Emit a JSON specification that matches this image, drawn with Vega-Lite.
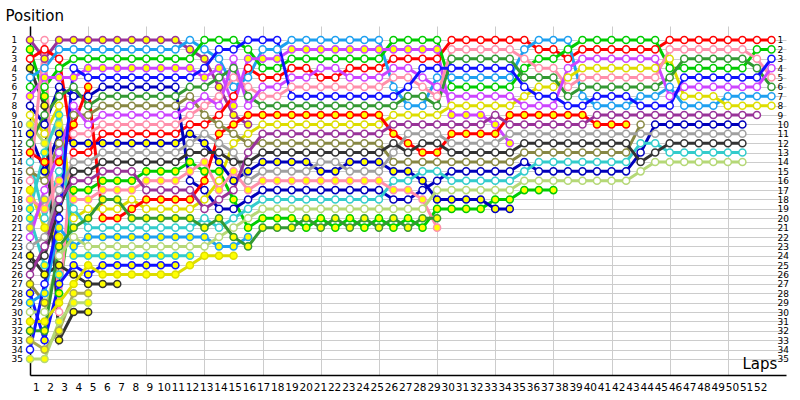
{
"$schema":"https://vega.github.io/schema/vega-lite/v6.json",
"width":756,"height":349,
"autosize":"none",
"padding":{"left":30,"top":26,"right":14,"bottom":25},
"background":"#ffffff",
"config":{"view":{"stroke":null},"font":"DejaVu Sans","axis":{"labelOverlap":false,"labelFlush":false,"labelBound":false}},
"datasets":{
"drv":[{"d":"PY","c":"#993399","f":1},{"d":"PO","c":"#993399","f":0},{"d":"LO","c":"#1ea0f0","f":0},{"d":"LY","c":"#1ea0f0","f":1},{"d":"GO","c":"#00cc00","f":0},{"d":"GY","c":"#00cc00","f":1},{"d":"VO","c":"#cc44ff","f":0},{"d":"VY","c":"#cc44ff","f":1},{"d":"BO","c":"#1111ff","f":0},{"d":"BY","c":"#1111ff","f":1},{"d":"NO","c":"#0000bb","f":0},{"d":"NY","c":"#0000bb","f":1},{"d":"DO","c":"#339933","f":0},{"d":"DY","c":"#339933","f":1},{"d":"OO","c":"#888844","f":0},{"d":"OY","c":"#888844","f":1},{"d":"KO","c":"#ff8fab","f":0},{"d":"KY","c":"#ff8fab","f":1},{"d":"RO","c":"#ff0000","f":0},{"d":"RY","c":"#ff0000","f":1},{"d":"EO","c":"#dddd00","f":0},{"d":"EY","c":"#dddd00","f":1},{"d":"AO","c":"#a0a0a0","f":0},{"d":"AY","c":"#a0a0a0","f":1},{"d":"XO","c":"#333333","f":0},{"d":"XY","c":"#333333","f":1},{"d":"CO","c":"#33cccc","f":0},{"d":"CY","c":"#33cccc","f":1},{"d":"HO","c":"#b5d877","f":0},{"d":"HY","c":"#b5d877","f":1},{"d":"XZ","c":"#333333","f":1},{"d":"OZ","c":"#aaaa55","f":1},{"d":"EZ","c":"#dddd00","f":1},{"d":"HZ","c":"#b5d877","f":1},{"d":"CZ","c":"#33cccc","f":1}],
"laps":[
{"l":1,"p":1,"d":"PY"},{"l":1,"p":2,"d":"GY"},{"l":1,"p":3,"d":"RO"},{"l":1,"p":4,"d":"XZ"},{"l":1,"p":5,"d":"LO"},{"l":1,"p":6,"d":"GO"},{"l":1,"p":7,"d":"VY"},{"l":1,"p":8,"d":"NO"},{"l":1,"p":9,"d":"EO"},{"l":1,"p":10,"d":"HY"},{"l":1,"p":11,"d":"NY"},{"l":1,"p":12,"d":"DO"},{"l":1,"p":13,"d":"RY"},{"l":1,"p":14,"d":"CO"},{"l":1,"p":15,"d":"OO"},{"l":1,"p":16,"d":"KO"},{"l":1,"p":17,"d":"EZ"},{"l":1,"p":18,"d":"KY"},{"l":1,"p":19,"d":"CY"},{"l":1,"p":20,"d":"CZ"},{"l":1,"p":21,"d":"AY"},{"l":1,"p":22,"d":"VO"},{"l":1,"p":23,"d":"AO"},{"l":1,"p":24,"d":"XY"},{"l":1,"p":25,"d":"XO"},{"l":1,"p":26,"d":"PO"},{"l":1,"p":27,"d":"OY"},{"l":1,"p":28,"d":"BY"},{"l":1,"p":29,"d":"LY"},{"l":1,"p":30,"d":"HO"},{"l":1,"p":31,"d":"EY"},{"l":1,"p":32,"d":"DY"},{"l":1,"p":33,"d":"OZ"},{"l":1,"p":34,"d":"BO"},{"l":1,"p":35,"d":"HZ"},
{"l":2,"p":1,"d":"KO"},{"l":2,"p":2,"d":"RO"},{"l":2,"p":3,"d":"PY"},{"l":2,"p":4,"d":"LO"},{"l":2,"p":5,"d":"VY"},{"l":2,"p":6,"d":"GO"},{"l":2,"p":7,"d":"GY"},{"l":2,"p":8,"d":"XZ"},{"l":2,"p":9,"d":"DO"},{"l":2,"p":10,"d":"NO"},{"l":2,"p":11,"d":"EO"},{"l":2,"p":12,"d":"HY"},{"l":2,"p":13,"d":"CY"},{"l":2,"p":14,"d":"RY"},{"l":2,"p":15,"d":"NY"},{"l":2,"p":16,"d":"OO"},{"l":2,"p":17,"d":"VO"},{"l":2,"p":18,"d":"AY"},{"l":2,"p":19,"d":"KY"},{"l":2,"p":20,"d":"CO"},{"l":2,"p":21,"d":"EZ"},{"l":2,"p":22,"d":"AO"},{"l":2,"p":23,"d":"PO"},{"l":2,"p":24,"d":"XO"},{"l":2,"p":25,"d":"CZ"},{"l":2,"p":26,"d":"XY"},{"l":2,"p":27,"d":"BO"},{"l":2,"p":28,"d":"LY"},{"l":2,"p":29,"d":"OY"},{"l":2,"p":30,"d":"HO"},{"l":2,"p":31,"d":"EY"},{"l":2,"p":32,"d":"DY"},{"l":2,"p":33,"d":"BY"},{"l":2,"p":34,"d":"OZ"},{"l":2,"p":35,"d":"HZ"},
{"l":3,"p":1,"d":"PY"},{"l":3,"p":2,"d":"LO"},{"l":3,"p":3,"d":"RO"},{"l":3,"p":4,"d":"GO"},{"l":3,"p":5,"d":"VY"},{"l":3,"p":6,"d":"NO"},{"l":3,"p":7,"d":"DO"},{"l":3,"p":8,"d":"EO"},{"l":3,"p":9,"d":"CY"},{"l":3,"p":10,"d":"HY"},{"l":3,"p":11,"d":"NY"},{"l":3,"p":12,"d":"OO"},{"l":3,"p":13,"d":"VO"},{"l":3,"p":14,"d":"RY"},{"l":3,"p":15,"d":"CO"},{"l":3,"p":16,"d":"KY"},{"l":3,"p":17,"d":"AO"},{"l":3,"p":18,"d":"PO"},{"l":3,"p":19,"d":"XO"},{"l":3,"p":20,"d":"BO"},{"l":3,"p":21,"d":"LY"},{"l":3,"p":22,"d":"EZ"},{"l":3,"p":23,"d":"DY"},{"l":3,"p":24,"d":"HO"},{"l":3,"p":25,"d":"XY"},{"l":3,"p":26,"d":"CZ"},{"l":3,"p":27,"d":"BY"},{"l":3,"p":28,"d":"GY"},{"l":3,"p":29,"d":"EY"},{"l":3,"p":30,"d":"KO"},{"l":3,"p":31,"d":"HZ"},{"l":3,"p":32,"d":"OZ"},{"l":3,"p":33,"d":"XZ"},
{"l":4,"p":1,"d":"PY"},{"l":4,"p":2,"d":"LO"},{"l":4,"p":3,"d":"GO"},{"l":4,"p":4,"d":"BO"},{"l":4,"p":5,"d":"VY"},{"l":4,"p":6,"d":"DO"},{"l":4,"p":7,"d":"NO"},{"l":4,"p":8,"d":"VO"},{"l":4,"p":9,"d":"OO"},{"l":4,"p":10,"d":"RY"},{"l":4,"p":11,"d":"KO"},{"l":4,"p":12,"d":"NY"},{"l":4,"p":13,"d":"RO"},{"l":4,"p":14,"d":"AO"},{"l":4,"p":15,"d":"XO"},{"l":4,"p":16,"d":"PO"},{"l":4,"p":17,"d":"GY"},{"l":4,"p":18,"d":"KY"},{"l":4,"p":19,"d":"CO"},{"l":4,"p":20,"d":"EO"},{"l":4,"p":21,"d":"DY"},{"l":4,"p":22,"d":"HO"},{"l":4,"p":23,"d":"LY"},{"l":4,"p":24,"d":"CY"},{"l":4,"p":25,"d":"BY"},{"l":4,"p":26,"d":"XY"},{"l":4,"p":27,"d":"EY"},{"l":4,"p":28,"d":"OZ"},{"l":4,"p":29,"d":"HZ"},{"l":4,"p":30,"d":"XZ"},
{"l":5,"p":1,"d":"PY"},{"l":5,"p":2,"d":"LO"},{"l":5,"p":3,"d":"GO"},{"l":5,"p":4,"d":"VY"},{"l":5,"p":5,"d":"BO"},{"l":5,"p":6,"d":"RY"},{"l":5,"p":7,"d":"NO"},{"l":5,"p":8,"d":"DO"},{"l":5,"p":9,"d":"OO"},{"l":5,"p":10,"d":"VO"},{"l":5,"p":11,"d":"KO"},{"l":5,"p":12,"d":"NY"},{"l":5,"p":13,"d":"RO"},{"l":5,"p":14,"d":"AO"},{"l":5,"p":15,"d":"XO"},{"l":5,"p":16,"d":"PO"},{"l":5,"p":17,"d":"GY"},{"l":5,"p":18,"d":"KY"},{"l":5,"p":19,"d":"EO"},{"l":5,"p":20,"d":"DY"},{"l":5,"p":21,"d":"CO"},{"l":5,"p":22,"d":"LY"},{"l":5,"p":23,"d":"HO"},{"l":5,"p":24,"d":"CY"},{"l":5,"p":25,"d":"EY"},{"l":5,"p":26,"d":"BY"},{"l":5,"p":27,"d":"XY"},{"l":5,"p":28,"d":"OZ"},{"l":5,"p":29,"d":"HZ"},{"l":5,"p":30,"d":"XZ"},
{"l":6,"p":1,"d":"PY"},{"l":6,"p":2,"d":"LO"},{"l":6,"p":3,"d":"GO"},{"l":6,"p":4,"d":"VY"},{"l":6,"p":5,"d":"BO"},{"l":6,"p":6,"d":"NO"},{"l":6,"p":7,"d":"DO"},{"l":6,"p":8,"d":"OO"},{"l":6,"p":9,"d":"VO"},{"l":6,"p":10,"d":"KO"},{"l":6,"p":11,"d":"RO"},{"l":6,"p":12,"d":"NY"},{"l":6,"p":13,"d":"AO"},{"l":6,"p":14,"d":"XO"},{"l":6,"p":15,"d":"PO"},{"l":6,"p":16,"d":"GY"},{"l":6,"p":17,"d":"KY"},{"l":6,"p":18,"d":"DY"},{"l":6,"p":19,"d":"EO"},{"l":6,"p":20,"d":"RY"},{"l":6,"p":21,"d":"CO"},{"l":6,"p":22,"d":"LY"},{"l":6,"p":23,"d":"HO"},{"l":6,"p":24,"d":"CY"},{"l":6,"p":25,"d":"BY"},{"l":6,"p":26,"d":"EY"},{"l":6,"p":27,"d":"XY"},
{"l":7,"p":1,"d":"PY"},{"l":7,"p":2,"d":"LO"},{"l":7,"p":3,"d":"GO"},{"l":7,"p":4,"d":"VY"},{"l":7,"p":5,"d":"BO"},{"l":7,"p":6,"d":"NO"},{"l":7,"p":7,"d":"DO"},{"l":7,"p":8,"d":"OO"},{"l":7,"p":9,"d":"VO"},{"l":7,"p":10,"d":"KO"},{"l":7,"p":11,"d":"RO"},{"l":7,"p":12,"d":"NY"},{"l":7,"p":13,"d":"AO"},{"l":7,"p":14,"d":"XO"},{"l":7,"p":15,"d":"PO"},{"l":7,"p":16,"d":"GY"},{"l":7,"p":17,"d":"KY"},{"l":7,"p":18,"d":"DY"},{"l":7,"p":19,"d":"EO"},{"l":7,"p":20,"d":"RY"},{"l":7,"p":21,"d":"CO"},{"l":7,"p":22,"d":"LY"},{"l":7,"p":23,"d":"HO"},{"l":7,"p":24,"d":"CY"},{"l":7,"p":25,"d":"BY"},{"l":7,"p":26,"d":"EY"},{"l":7,"p":27,"d":"XY"},
{"l":8,"p":1,"d":"PY"},{"l":8,"p":2,"d":"LO"},{"l":8,"p":3,"d":"GO"},{"l":8,"p":4,"d":"VY"},{"l":8,"p":5,"d":"BO"},{"l":8,"p":6,"d":"NO"},{"l":8,"p":7,"d":"DO"},{"l":8,"p":8,"d":"OO"},{"l":8,"p":9,"d":"VO"},{"l":8,"p":10,"d":"KO"},{"l":8,"p":11,"d":"RO"},{"l":8,"p":12,"d":"NY"},{"l":8,"p":13,"d":"AO"},{"l":8,"p":14,"d":"XO"},{"l":8,"p":15,"d":"PO"},{"l":8,"p":16,"d":"GY"},{"l":8,"p":17,"d":"KY"},{"l":8,"p":18,"d":"EO"},{"l":8,"p":19,"d":"RY"},{"l":8,"p":20,"d":"DY"},{"l":8,"p":21,"d":"CO"},{"l":8,"p":22,"d":"LY"},{"l":8,"p":23,"d":"HO"},{"l":8,"p":24,"d":"CY"},{"l":8,"p":25,"d":"BY"},{"l":8,"p":26,"d":"EY"},
{"l":9,"p":1,"d":"PY"},{"l":9,"p":2,"d":"LO"},{"l":9,"p":3,"d":"GO"},{"l":9,"p":4,"d":"VY"},{"l":9,"p":5,"d":"BO"},{"l":9,"p":6,"d":"NO"},{"l":9,"p":7,"d":"DO"},{"l":9,"p":8,"d":"OO"},{"l":9,"p":9,"d":"VO"},{"l":9,"p":10,"d":"KO"},{"l":9,"p":11,"d":"RO"},{"l":9,"p":12,"d":"NY"},{"l":9,"p":13,"d":"AO"},{"l":9,"p":14,"d":"XO"},{"l":9,"p":15,"d":"GY"},{"l":9,"p":16,"d":"KY"},{"l":9,"p":17,"d":"PO"},{"l":9,"p":18,"d":"RY"},{"l":9,"p":19,"d":"EO"},{"l":9,"p":20,"d":"DY"},{"l":9,"p":21,"d":"CO"},{"l":9,"p":22,"d":"LY"},{"l":9,"p":23,"d":"HO"},{"l":9,"p":24,"d":"CY"},{"l":9,"p":25,"d":"BY"},{"l":9,"p":26,"d":"EY"},
{"l":10,"p":1,"d":"PY"},{"l":10,"p":2,"d":"LO"},{"l":10,"p":3,"d":"GO"},{"l":10,"p":4,"d":"VY"},{"l":10,"p":5,"d":"BO"},{"l":10,"p":6,"d":"NO"},{"l":10,"p":7,"d":"DO"},{"l":10,"p":8,"d":"OO"},{"l":10,"p":9,"d":"VO"},{"l":10,"p":10,"d":"KO"},{"l":10,"p":11,"d":"RO"},{"l":10,"p":12,"d":"NY"},{"l":10,"p":13,"d":"AO"},{"l":10,"p":14,"d":"XO"},{"l":10,"p":15,"d":"GY"},{"l":10,"p":16,"d":"KY"},{"l":10,"p":17,"d":"PO"},{"l":10,"p":18,"d":"RY"},{"l":10,"p":19,"d":"EO"},{"l":10,"p":20,"d":"DY"},{"l":10,"p":21,"d":"CO"},{"l":10,"p":22,"d":"LY"},{"l":10,"p":23,"d":"HO"},{"l":10,"p":24,"d":"CY"},{"l":10,"p":25,"d":"BY"},{"l":10,"p":26,"d":"EY"},
{"l":11,"p":1,"d":"PY"},{"l":11,"p":2,"d":"LO"},{"l":11,"p":3,"d":"GO"},{"l":11,"p":4,"d":"VY"},{"l":11,"p":5,"d":"BO"},{"l":11,"p":6,"d":"NO"},{"l":11,"p":7,"d":"DO"},{"l":11,"p":8,"d":"OO"},{"l":11,"p":9,"d":"VO"},{"l":11,"p":10,"d":"KO"},{"l":11,"p":11,"d":"RO"},{"l":11,"p":12,"d":"NY"},{"l":11,"p":13,"d":"AO"},{"l":11,"p":14,"d":"XO"},{"l":11,"p":15,"d":"GY"},{"l":11,"p":16,"d":"KY"},{"l":11,"p":17,"d":"PO"},{"l":11,"p":18,"d":"RY"},{"l":11,"p":19,"d":"EO"},{"l":11,"p":20,"d":"DY"},{"l":11,"p":21,"d":"CO"},{"l":11,"p":22,"d":"LY"},{"l":11,"p":23,"d":"HO"},{"l":11,"p":24,"d":"CY"},{"l":11,"p":25,"d":"BY"},{"l":11,"p":26,"d":"EY"},
{"l":12,"p":1,"d":"LO"},{"l":12,"p":2,"d":"PY"},{"l":12,"p":3,"d":"GO"},{"l":12,"p":4,"d":"VY"},{"l":12,"p":5,"d":"BO"},{"l":12,"p":6,"d":"DO"},{"l":12,"p":7,"d":"OO"},{"l":12,"p":8,"d":"VO"},{"l":12,"p":9,"d":"KO"},{"l":12,"p":10,"d":"RO"},{"l":12,"p":11,"d":"NY"},{"l":12,"p":12,"d":"AO"},{"l":12,"p":13,"d":"XO"},{"l":12,"p":14,"d":"GY"},{"l":12,"p":15,"d":"KY"},{"l":12,"p":16,"d":"NO"},{"l":12,"p":17,"d":"PO"},{"l":12,"p":18,"d":"RY"},{"l":12,"p":19,"d":"EO"},{"l":12,"p":20,"d":"DY"},{"l":12,"p":21,"d":"CO"},{"l":12,"p":22,"d":"LY"},{"l":12,"p":23,"d":"HO"},{"l":12,"p":24,"d":"CY"},{"l":12,"p":25,"d":"EY"},
{"l":13,"p":1,"d":"GO"},{"l":13,"p":2,"d":"LO"},{"l":13,"p":3,"d":"PY"},{"l":13,"p":4,"d":"BO"},{"l":13,"p":5,"d":"VY"},{"l":13,"p":6,"d":"DO"},{"l":13,"p":7,"d":"VO"},{"l":13,"p":8,"d":"KO"},{"l":13,"p":9,"d":"OO"},{"l":13,"p":10,"d":"RO"},{"l":13,"p":11,"d":"AO"},{"l":13,"p":12,"d":"NY"},{"l":13,"p":13,"d":"XO"},{"l":13,"p":14,"d":"KY"},{"l":13,"p":15,"d":"GY"},{"l":13,"p":16,"d":"RY"},{"l":13,"p":17,"d":"NO"},{"l":13,"p":18,"d":"EO"},{"l":13,"p":19,"d":"PO"},{"l":13,"p":20,"d":"CO"},{"l":13,"p":21,"d":"DY"},{"l":13,"p":22,"d":"LY"},{"l":13,"p":23,"d":"HO"},{"l":13,"p":24,"d":"EY"},
{"l":14,"p":1,"d":"GO"},{"l":14,"p":2,"d":"BO"},{"l":14,"p":3,"d":"LO"},{"l":14,"p":4,"d":"VY"},{"l":14,"p":5,"d":"DO"},{"l":14,"p":6,"d":"PY"},{"l":14,"p":7,"d":"KO"},{"l":14,"p":8,"d":"VO"},{"l":14,"p":9,"d":"RO"},{"l":14,"p":10,"d":"OO"},{"l":14,"p":11,"d":"RY"},{"l":14,"p":12,"d":"AO"},{"l":14,"p":13,"d":"XO"},{"l":14,"p":14,"d":"NY"},{"l":14,"p":15,"d":"GY"},{"l":14,"p":16,"d":"EO"},{"l":14,"p":17,"d":"KY"},{"l":14,"p":18,"d":"PO"},{"l":14,"p":19,"d":"NO"},{"l":14,"p":20,"d":"DY"},{"l":14,"p":21,"d":"CO"},{"l":14,"p":22,"d":"HO"},{"l":14,"p":23,"d":"LY"},{"l":14,"p":24,"d":"EY"},
{"l":15,"p":1,"d":"GO"},{"l":15,"p":2,"d":"BO"},{"l":15,"p":3,"d":"VO"},{"l":15,"p":4,"d":"DO"},{"l":15,"p":5,"d":"KO"},{"l":15,"p":6,"d":"LO"},{"l":15,"p":7,"d":"RO"},{"l":15,"p":8,"d":"VY"},{"l":15,"p":9,"d":"PY"},{"l":15,"p":10,"d":"RY"},{"l":15,"p":11,"d":"OO"},{"l":15,"p":12,"d":"EO"},{"l":15,"p":13,"d":"AO"},{"l":15,"p":14,"d":"XO"},{"l":15,"p":15,"d":"KY"},{"l":15,"p":16,"d":"NY"},{"l":15,"p":17,"d":"PO"},{"l":15,"p":18,"d":"GY"},{"l":15,"p":19,"d":"NO"},{"l":15,"p":20,"d":"CO"},{"l":15,"p":21,"d":"HO"},{"l":15,"p":22,"d":"DY"},{"l":15,"p":23,"d":"LY"},{"l":15,"p":24,"d":"EY"},
{"l":16,"p":1,"d":"BO"},{"l":16,"p":2,"d":"GO"},{"l":16,"p":3,"d":"VY"},{"l":16,"p":4,"d":"RO"},{"l":16,"p":5,"d":"LO"},{"l":16,"p":6,"d":"KO"},{"l":16,"p":7,"d":"DO"},{"l":16,"p":8,"d":"VO"},{"l":16,"p":9,"d":"RY"},{"l":16,"p":10,"d":"PY"},{"l":16,"p":11,"d":"EO"},{"l":16,"p":12,"d":"OO"},{"l":16,"p":13,"d":"PO"},{"l":16,"p":14,"d":"XO"},{"l":16,"p":15,"d":"NY"},{"l":16,"p":16,"d":"AO"},{"l":16,"p":17,"d":"KY"},{"l":16,"p":18,"d":"NO"},{"l":16,"p":19,"d":"CO"},{"l":16,"p":20,"d":"HO"},{"l":16,"p":21,"d":"GY"},{"l":16,"p":22,"d":"LY"},{"l":16,"p":23,"d":"DY"},
{"l":17,"p":1,"d":"BO"},{"l":17,"p":2,"d":"LO"},{"l":17,"p":3,"d":"VY"},{"l":17,"p":4,"d":"GO"},{"l":17,"p":5,"d":"RO"},{"l":17,"p":6,"d":"VO"},{"l":17,"p":7,"d":"KO"},{"l":17,"p":8,"d":"DO"},{"l":17,"p":9,"d":"RY"},{"l":17,"p":10,"d":"EO"},{"l":17,"p":11,"d":"PO"},{"l":17,"p":12,"d":"OO"},{"l":17,"p":13,"d":"XO"},{"l":17,"p":14,"d":"NY"},{"l":17,"p":15,"d":"AO"},{"l":17,"p":16,"d":"KY"},{"l":17,"p":17,"d":"NO"},{"l":17,"p":18,"d":"CO"},{"l":17,"p":19,"d":"HO"},{"l":17,"p":20,"d":"GY"},{"l":17,"p":21,"d":"DY"},
{"l":18,"p":1,"d":"BO"},{"l":18,"p":2,"d":"LO"},{"l":18,"p":3,"d":"VY"},{"l":18,"p":4,"d":"GO"},{"l":18,"p":5,"d":"RO"},{"l":18,"p":6,"d":"VO"},{"l":18,"p":7,"d":"KO"},{"l":18,"p":8,"d":"DO"},{"l":18,"p":9,"d":"RY"},{"l":18,"p":10,"d":"EO"},{"l":18,"p":11,"d":"PO"},{"l":18,"p":12,"d":"OO"},{"l":18,"p":13,"d":"XO"},{"l":18,"p":14,"d":"NY"},{"l":18,"p":15,"d":"AO"},{"l":18,"p":16,"d":"KY"},{"l":18,"p":17,"d":"NO"},{"l":18,"p":18,"d":"CO"},{"l":18,"p":19,"d":"HO"},{"l":18,"p":20,"d":"GY"},{"l":18,"p":21,"d":"DY"},
{"l":19,"p":1,"d":"LO"},{"l":19,"p":2,"d":"VY"},{"l":19,"p":3,"d":"GO"},{"l":19,"p":4,"d":"RO"},{"l":19,"p":5,"d":"VO"},{"l":19,"p":6,"d":"KO"},{"l":19,"p":7,"d":"BO"},{"l":19,"p":8,"d":"DO"},{"l":19,"p":9,"d":"RY"},{"l":19,"p":10,"d":"EO"},{"l":19,"p":11,"d":"PO"},{"l":19,"p":12,"d":"OO"},{"l":19,"p":13,"d":"XO"},{"l":19,"p":14,"d":"NY"},{"l":19,"p":15,"d":"AO"},{"l":19,"p":16,"d":"KY"},{"l":19,"p":17,"d":"NO"},{"l":19,"p":18,"d":"CO"},{"l":19,"p":19,"d":"HO"},{"l":19,"p":20,"d":"GY"},{"l":19,"p":21,"d":"DY"},
{"l":20,"p":1,"d":"LO"},{"l":20,"p":2,"d":"VY"},{"l":20,"p":3,"d":"GO"},{"l":20,"p":4,"d":"RO"},{"l":20,"p":5,"d":"VO"},{"l":20,"p":6,"d":"KO"},{"l":20,"p":7,"d":"BO"},{"l":20,"p":8,"d":"DO"},{"l":20,"p":9,"d":"RY"},{"l":20,"p":10,"d":"EO"},{"l":20,"p":11,"d":"PO"},{"l":20,"p":12,"d":"OO"},{"l":20,"p":13,"d":"XO"},{"l":20,"p":14,"d":"NY"},{"l":20,"p":15,"d":"AO"},{"l":20,"p":16,"d":"KY"},{"l":20,"p":17,"d":"NO"},{"l":20,"p":18,"d":"CO"},{"l":20,"p":19,"d":"HO"},{"l":20,"p":20,"d":"DY"},{"l":20,"p":21,"d":"GY"},
{"l":21,"p":1,"d":"LO"},{"l":21,"p":2,"d":"VY"},{"l":21,"p":3,"d":"GO"},{"l":21,"p":4,"d":"VO"},{"l":21,"p":5,"d":"RO"},{"l":21,"p":6,"d":"KO"},{"l":21,"p":7,"d":"BO"},{"l":21,"p":8,"d":"DO"},{"l":21,"p":9,"d":"RY"},{"l":21,"p":10,"d":"EO"},{"l":21,"p":11,"d":"PO"},{"l":21,"p":12,"d":"OO"},{"l":21,"p":13,"d":"XO"},{"l":21,"p":14,"d":"AO"},{"l":21,"p":15,"d":"NY"},{"l":21,"p":16,"d":"KY"},{"l":21,"p":17,"d":"NO"},{"l":21,"p":18,"d":"CO"},{"l":21,"p":19,"d":"HO"},{"l":21,"p":20,"d":"GY"},{"l":21,"p":21,"d":"DY"},
{"l":22,"p":1,"d":"LO"},{"l":22,"p":2,"d":"VY"},{"l":22,"p":3,"d":"GO"},{"l":22,"p":4,"d":"VO"},{"l":22,"p":5,"d":"RO"},{"l":22,"p":6,"d":"KO"},{"l":22,"p":7,"d":"BO"},{"l":22,"p":8,"d":"DO"},{"l":22,"p":9,"d":"RY"},{"l":22,"p":10,"d":"EO"},{"l":22,"p":11,"d":"PO"},{"l":22,"p":12,"d":"OO"},{"l":22,"p":13,"d":"XO"},{"l":22,"p":14,"d":"AO"},{"l":22,"p":15,"d":"NY"},{"l":22,"p":16,"d":"KY"},{"l":22,"p":17,"d":"NO"},{"l":22,"p":18,"d":"CO"},{"l":22,"p":19,"d":"HO"},{"l":22,"p":20,"d":"DY"},{"l":22,"p":21,"d":"GY"},
{"l":23,"p":1,"d":"LO"},{"l":23,"p":2,"d":"VY"},{"l":23,"p":3,"d":"GO"},{"l":23,"p":4,"d":"RO"},{"l":23,"p":5,"d":"VO"},{"l":23,"p":6,"d":"KO"},{"l":23,"p":7,"d":"BO"},{"l":23,"p":8,"d":"DO"},{"l":23,"p":9,"d":"RY"},{"l":23,"p":10,"d":"EO"},{"l":23,"p":11,"d":"PO"},{"l":23,"p":12,"d":"OO"},{"l":23,"p":13,"d":"XO"},{"l":23,"p":14,"d":"NY"},{"l":23,"p":15,"d":"AO"},{"l":23,"p":16,"d":"KY"},{"l":23,"p":17,"d":"NO"},{"l":23,"p":18,"d":"CO"},{"l":23,"p":19,"d":"HO"},{"l":23,"p":20,"d":"GY"},{"l":23,"p":21,"d":"DY"},
{"l":24,"p":1,"d":"LO"},{"l":24,"p":2,"d":"VY"},{"l":24,"p":3,"d":"GO"},{"l":24,"p":4,"d":"RO"},{"l":24,"p":5,"d":"VO"},{"l":24,"p":6,"d":"KO"},{"l":24,"p":7,"d":"BO"},{"l":24,"p":8,"d":"DO"},{"l":24,"p":9,"d":"RY"},{"l":24,"p":10,"d":"EO"},{"l":24,"p":11,"d":"PO"},{"l":24,"p":12,"d":"OO"},{"l":24,"p":13,"d":"XO"},{"l":24,"p":14,"d":"NY"},{"l":24,"p":15,"d":"AO"},{"l":24,"p":16,"d":"KY"},{"l":24,"p":17,"d":"NO"},{"l":24,"p":18,"d":"CO"},{"l":24,"p":19,"d":"HO"},{"l":24,"p":20,"d":"DY"},{"l":24,"p":21,"d":"GY"},
{"l":25,"p":1,"d":"LO"},{"l":25,"p":2,"d":"VY"},{"l":25,"p":3,"d":"GO"},{"l":25,"p":4,"d":"RO"},{"l":25,"p":5,"d":"VO"},{"l":25,"p":6,"d":"KO"},{"l":25,"p":7,"d":"BO"},{"l":25,"p":8,"d":"DO"},{"l":25,"p":9,"d":"RY"},{"l":25,"p":10,"d":"EO"},{"l":25,"p":11,"d":"PO"},{"l":25,"p":12,"d":"OO"},{"l":25,"p":13,"d":"XO"},{"l":25,"p":14,"d":"NY"},{"l":25,"p":15,"d":"AO"},{"l":25,"p":16,"d":"KY"},{"l":25,"p":17,"d":"NO"},{"l":25,"p":18,"d":"CO"},{"l":25,"p":19,"d":"HO"},{"l":25,"p":20,"d":"GY"},{"l":25,"p":21,"d":"DY"},
{"l":26,"p":1,"d":"GO"},{"l":26,"p":2,"d":"VY"},{"l":26,"p":3,"d":"RO"},{"l":26,"p":4,"d":"VO"},{"l":26,"p":5,"d":"KO"},{"l":26,"p":6,"d":"LO"},{"l":26,"p":7,"d":"BO"},{"l":26,"p":8,"d":"DO"},{"l":26,"p":9,"d":"EO"},{"l":26,"p":10,"d":"PO"},{"l":26,"p":11,"d":"RY"},{"l":26,"p":12,"d":"XO"},{"l":26,"p":13,"d":"AO"},{"l":26,"p":14,"d":"OO"},{"l":26,"p":15,"d":"NY"},{"l":26,"p":16,"d":"CO"},{"l":26,"p":17,"d":"KY"},{"l":26,"p":18,"d":"NO"},{"l":26,"p":19,"d":"HO"},{"l":26,"p":20,"d":"DY"},{"l":26,"p":21,"d":"GY"},
{"l":27,"p":1,"d":"GO"},{"l":27,"p":2,"d":"VY"},{"l":27,"p":3,"d":"RO"},{"l":27,"p":4,"d":"VO"},{"l":27,"p":5,"d":"KO"},{"l":27,"p":6,"d":"BO"},{"l":27,"p":7,"d":"DO"},{"l":27,"p":8,"d":"LO"},{"l":27,"p":9,"d":"EO"},{"l":27,"p":10,"d":"PO"},{"l":27,"p":11,"d":"AO"},{"l":27,"p":12,"d":"RY"},{"l":27,"p":13,"d":"XO"},{"l":27,"p":14,"d":"OO"},{"l":27,"p":15,"d":"NY"},{"l":27,"p":16,"d":"CO"},{"l":27,"p":17,"d":"KY"},{"l":27,"p":18,"d":"NO"},{"l":27,"p":19,"d":"HO"},{"l":27,"p":20,"d":"GY"},{"l":27,"p":21,"d":"DY"},
{"l":28,"p":1,"d":"GO"},{"l":28,"p":2,"d":"VY"},{"l":28,"p":3,"d":"RO"},{"l":28,"p":4,"d":"BO"},{"l":28,"p":5,"d":"VO"},{"l":28,"p":6,"d":"KO"},{"l":28,"p":7,"d":"DO"},{"l":28,"p":8,"d":"LO"},{"l":28,"p":9,"d":"EO"},{"l":28,"p":10,"d":"PO"},{"l":28,"p":11,"d":"AO"},{"l":28,"p":12,"d":"XO"},{"l":28,"p":13,"d":"RY"},{"l":28,"p":14,"d":"OO"},{"l":28,"p":15,"d":"CO"},{"l":28,"p":16,"d":"NY"},{"l":28,"p":17,"d":"NO"},{"l":28,"p":18,"d":"KY"},{"l":28,"p":19,"d":"HO"},{"l":28,"p":20,"d":"DY"},{"l":28,"p":21,"d":"GY"},
{"l":29,"p":1,"d":"GO"},{"l":29,"p":2,"d":"VY"},{"l":29,"p":3,"d":"RO"},{"l":29,"p":4,"d":"BO"},{"l":29,"p":5,"d":"LO"},{"l":29,"p":6,"d":"VO"},{"l":29,"p":7,"d":"KO"},{"l":29,"p":8,"d":"DO"},{"l":29,"p":9,"d":"EO"},{"l":29,"p":10,"d":"PO"},{"l":29,"p":11,"d":"AO"},{"l":29,"p":12,"d":"XO"},{"l":29,"p":13,"d":"RY"},{"l":29,"p":14,"d":"OO"},{"l":29,"p":15,"d":"CO"},{"l":29,"p":16,"d":"NO"},{"l":29,"p":17,"d":"HO"},{"l":29,"p":18,"d":"NY"},{"l":29,"p":19,"d":"GY"},{"l":29,"p":20,"d":"DY"},{"l":29,"p":21,"d":"KY"},
{"l":30,"p":1,"d":"RO"},{"l":30,"p":2,"d":"KO"},{"l":30,"p":3,"d":"DO"},{"l":30,"p":4,"d":"BO"},{"l":30,"p":5,"d":"LO"},{"l":30,"p":6,"d":"GO"},{"l":30,"p":7,"d":"VO"},{"l":30,"p":8,"d":"EO"},{"l":30,"p":9,"d":"VY"},{"l":30,"p":10,"d":"PO"},{"l":30,"p":11,"d":"RY"},{"l":30,"p":12,"d":"AO"},{"l":30,"p":13,"d":"XO"},{"l":30,"p":14,"d":"OO"},{"l":30,"p":15,"d":"NO"},{"l":30,"p":16,"d":"CO"},{"l":30,"p":17,"d":"HO"},{"l":30,"p":18,"d":"NY"},{"l":30,"p":19,"d":"GY"},
{"l":31,"p":1,"d":"RO"},{"l":31,"p":2,"d":"KO"},{"l":31,"p":3,"d":"DO"},{"l":31,"p":4,"d":"BO"},{"l":31,"p":5,"d":"LO"},{"l":31,"p":6,"d":"GO"},{"l":31,"p":7,"d":"VO"},{"l":31,"p":8,"d":"EO"},{"l":31,"p":9,"d":"VY"},{"l":31,"p":10,"d":"PO"},{"l":31,"p":11,"d":"RY"},{"l":31,"p":12,"d":"AO"},{"l":31,"p":13,"d":"XO"},{"l":31,"p":14,"d":"OO"},{"l":31,"p":15,"d":"NO"},{"l":31,"p":16,"d":"CO"},{"l":31,"p":17,"d":"HO"},{"l":31,"p":18,"d":"NY"},{"l":31,"p":19,"d":"GY"},
{"l":32,"p":1,"d":"RO"},{"l":32,"p":2,"d":"KO"},{"l":32,"p":3,"d":"DO"},{"l":32,"p":4,"d":"BO"},{"l":32,"p":5,"d":"LO"},{"l":32,"p":6,"d":"GO"},{"l":32,"p":7,"d":"VO"},{"l":32,"p":8,"d":"EO"},{"l":32,"p":9,"d":"VY"},{"l":32,"p":10,"d":"PO"},{"l":32,"p":11,"d":"RY"},{"l":32,"p":12,"d":"AO"},{"l":32,"p":13,"d":"XO"},{"l":32,"p":14,"d":"OO"},{"l":32,"p":15,"d":"NO"},{"l":32,"p":16,"d":"CO"},{"l":32,"p":17,"d":"HO"},{"l":32,"p":18,"d":"NY"},{"l":32,"p":19,"d":"GY"},
{"l":33,"p":1,"d":"RO"},{"l":33,"p":2,"d":"KO"},{"l":33,"p":3,"d":"DO"},{"l":33,"p":4,"d":"BO"},{"l":33,"p":5,"d":"LO"},{"l":33,"p":6,"d":"GO"},{"l":33,"p":7,"d":"VO"},{"l":33,"p":8,"d":"EO"},{"l":33,"p":9,"d":"PO"},{"l":33,"p":10,"d":"VY"},{"l":33,"p":11,"d":"RY"},{"l":33,"p":12,"d":"AO"},{"l":33,"p":13,"d":"XO"},{"l":33,"p":14,"d":"OO"},{"l":33,"p":15,"d":"NO"},{"l":33,"p":16,"d":"CO"},{"l":33,"p":17,"d":"HO"},{"l":33,"p":18,"d":"GY"},{"l":33,"p":19,"d":"NY"},
{"l":34,"p":1,"d":"RO"},{"l":34,"p":2,"d":"KO"},{"l":34,"p":3,"d":"DO"},{"l":34,"p":4,"d":"BO"},{"l":34,"p":5,"d":"LO"},{"l":34,"p":6,"d":"GO"},{"l":34,"p":7,"d":"VO"},{"l":34,"p":8,"d":"EO"},{"l":34,"p":9,"d":"RY"},{"l":34,"p":10,"d":"PO"},{"l":34,"p":11,"d":"AO"},{"l":34,"p":12,"d":"VY"},{"l":34,"p":13,"d":"XO"},{"l":34,"p":14,"d":"OO"},{"l":34,"p":15,"d":"NO"},{"l":34,"p":16,"d":"CO"},{"l":34,"p":17,"d":"HO"},{"l":34,"p":18,"d":"GY"},{"l":34,"p":19,"d":"NY"},
{"l":35,"p":1,"d":"RO"},{"l":35,"p":2,"d":"LO"},{"l":35,"p":3,"d":"KO"},{"l":35,"p":4,"d":"GO"},{"l":35,"p":5,"d":"DO"},{"l":35,"p":6,"d":"BO"},{"l":35,"p":7,"d":"EO"},{"l":35,"p":8,"d":"VO"},{"l":35,"p":9,"d":"RY"},{"l":35,"p":10,"d":"PO"},{"l":35,"p":11,"d":"AO"},{"l":35,"p":12,"d":"XO"},{"l":35,"p":13,"d":"OO"},{"l":35,"p":14,"d":"NO"},{"l":35,"p":15,"d":"CO"},{"l":35,"p":16,"d":"HO"},{"l":35,"p":17,"d":"GY"},
{"l":36,"p":1,"d":"LO"},{"l":36,"p":2,"d":"RO"},{"l":36,"p":3,"d":"GO"},{"l":36,"p":4,"d":"KO"},{"l":36,"p":5,"d":"DO"},{"l":36,"p":6,"d":"EO"},{"l":36,"p":7,"d":"BO"},{"l":36,"p":8,"d":"VO"},{"l":36,"p":9,"d":"RY"},{"l":36,"p":10,"d":"PO"},{"l":36,"p":11,"d":"AO"},{"l":36,"p":12,"d":"XO"},{"l":36,"p":13,"d":"OO"},{"l":36,"p":14,"d":"CO"},{"l":36,"p":15,"d":"NO"},{"l":36,"p":16,"d":"HO"},{"l":36,"p":17,"d":"GY"},
{"l":37,"p":1,"d":"LO"},{"l":37,"p":2,"d":"RO"},{"l":37,"p":3,"d":"GO"},{"l":37,"p":4,"d":"KO"},{"l":37,"p":5,"d":"DO"},{"l":37,"p":6,"d":"EO"},{"l":37,"p":7,"d":"BO"},{"l":37,"p":8,"d":"VO"},{"l":37,"p":9,"d":"RY"},{"l":37,"p":10,"d":"PO"},{"l":37,"p":11,"d":"AO"},{"l":37,"p":12,"d":"XO"},{"l":37,"p":13,"d":"OO"},{"l":37,"p":14,"d":"CO"},{"l":37,"p":15,"d":"NO"},{"l":37,"p":16,"d":"HO"},{"l":37,"p":17,"d":"GY"},
{"l":38,"p":1,"d":"LO"},{"l":38,"p":2,"d":"GO"},{"l":38,"p":3,"d":"RO"},{"l":38,"p":4,"d":"VO"},{"l":38,"p":5,"d":"EO"},{"l":38,"p":6,"d":"KO"},{"l":38,"p":7,"d":"DO"},{"l":38,"p":8,"d":"BO"},{"l":38,"p":9,"d":"RY"},{"l":38,"p":10,"d":"PO"},{"l":38,"p":11,"d":"AO"},{"l":38,"p":12,"d":"XO"},{"l":38,"p":13,"d":"OO"},{"l":38,"p":14,"d":"CO"},{"l":38,"p":15,"d":"NO"},{"l":38,"p":16,"d":"HO"},
{"l":39,"p":1,"d":"GO"},{"l":39,"p":2,"d":"RO"},{"l":39,"p":3,"d":"VO"},{"l":39,"p":4,"d":"EO"},{"l":39,"p":5,"d":"KO"},{"l":39,"p":6,"d":"DO"},{"l":39,"p":7,"d":"LO"},{"l":39,"p":8,"d":"BO"},{"l":39,"p":9,"d":"RY"},{"l":39,"p":10,"d":"PO"},{"l":39,"p":11,"d":"AO"},{"l":39,"p":12,"d":"XO"},{"l":39,"p":13,"d":"OO"},{"l":39,"p":14,"d":"CO"},{"l":39,"p":15,"d":"NO"},{"l":39,"p":16,"d":"HO"},
{"l":40,"p":1,"d":"GO"},{"l":40,"p":2,"d":"RO"},{"l":40,"p":3,"d":"VO"},{"l":40,"p":4,"d":"EO"},{"l":40,"p":5,"d":"KO"},{"l":40,"p":6,"d":"DO"},{"l":40,"p":7,"d":"BO"},{"l":40,"p":8,"d":"LO"},{"l":40,"p":9,"d":"PO"},{"l":40,"p":10,"d":"RY"},{"l":40,"p":11,"d":"AO"},{"l":40,"p":12,"d":"XO"},{"l":40,"p":13,"d":"OO"},{"l":40,"p":14,"d":"CO"},{"l":40,"p":15,"d":"NO"},{"l":40,"p":16,"d":"HO"},
{"l":41,"p":1,"d":"GO"},{"l":41,"p":2,"d":"RO"},{"l":41,"p":3,"d":"VO"},{"l":41,"p":4,"d":"EO"},{"l":41,"p":5,"d":"KO"},{"l":41,"p":6,"d":"DO"},{"l":41,"p":7,"d":"BO"},{"l":41,"p":8,"d":"LO"},{"l":41,"p":9,"d":"PO"},{"l":41,"p":10,"d":"RY"},{"l":41,"p":11,"d":"AO"},{"l":41,"p":12,"d":"XO"},{"l":41,"p":13,"d":"OO"},{"l":41,"p":14,"d":"CO"},{"l":41,"p":15,"d":"NO"},{"l":41,"p":16,"d":"HO"},
{"l":42,"p":1,"d":"GO"},{"l":42,"p":2,"d":"RO"},{"l":42,"p":3,"d":"VO"},{"l":42,"p":4,"d":"EO"},{"l":42,"p":5,"d":"KO"},{"l":42,"p":6,"d":"DO"},{"l":42,"p":7,"d":"BO"},{"l":42,"p":8,"d":"LO"},{"l":42,"p":9,"d":"PO"},{"l":42,"p":10,"d":"RY"},{"l":42,"p":11,"d":"AO"},{"l":42,"p":12,"d":"XO"},{"l":42,"p":13,"d":"OO"},{"l":42,"p":14,"d":"CO"},{"l":42,"p":15,"d":"NO"},{"l":42,"p":16,"d":"HO"},
{"l":43,"p":1,"d":"GO"},{"l":43,"p":2,"d":"RO"},{"l":43,"p":3,"d":"VO"},{"l":43,"p":4,"d":"EO"},{"l":43,"p":5,"d":"KO"},{"l":43,"p":6,"d":"DO"},{"l":43,"p":7,"d":"LO"},{"l":43,"p":8,"d":"BO"},{"l":43,"p":9,"d":"PO"},{"l":43,"p":10,"d":"OO"},{"l":43,"p":11,"d":"AO"},{"l":43,"p":12,"d":"CO"},{"l":43,"p":13,"d":"NO"},{"l":43,"p":14,"d":"XO"},{"l":43,"p":15,"d":"HO"},
{"l":44,"p":1,"d":"GO"},{"l":44,"p":2,"d":"RO"},{"l":44,"p":3,"d":"VO"},{"l":44,"p":4,"d":"EO"},{"l":44,"p":5,"d":"KO"},{"l":44,"p":6,"d":"DO"},{"l":44,"p":7,"d":"LO"},{"l":44,"p":8,"d":"BO"},{"l":44,"p":9,"d":"PO"},{"l":44,"p":10,"d":"NO"},{"l":44,"p":11,"d":"AO"},{"l":44,"p":12,"d":"CO"},{"l":44,"p":13,"d":"XO"},{"l":44,"p":14,"d":"HO"},
{"l":45,"p":1,"d":"RO"},{"l":45,"p":2,"d":"KO"},{"l":45,"p":3,"d":"EO"},{"l":45,"p":4,"d":"GO"},{"l":45,"p":5,"d":"DO"},{"l":45,"p":6,"d":"LO"},{"l":45,"p":7,"d":"VO"},{"l":45,"p":8,"d":"BO"},{"l":45,"p":9,"d":"PO"},{"l":45,"p":10,"d":"NO"},{"l":45,"p":11,"d":"AO"},{"l":45,"p":12,"d":"XO"},{"l":45,"p":13,"d":"CO"},{"l":45,"p":14,"d":"HO"},
{"l":46,"p":1,"d":"RO"},{"l":46,"p":2,"d":"KO"},{"l":46,"p":3,"d":"DO"},{"l":46,"p":4,"d":"GO"},{"l":46,"p":5,"d":"BO"},{"l":46,"p":6,"d":"VO"},{"l":46,"p":7,"d":"EO"},{"l":46,"p":8,"d":"LO"},{"l":46,"p":9,"d":"PO"},{"l":46,"p":10,"d":"NO"},{"l":46,"p":11,"d":"AO"},{"l":46,"p":12,"d":"XO"},{"l":46,"p":13,"d":"CO"},{"l":46,"p":14,"d":"HO"},
{"l":47,"p":1,"d":"RO"},{"l":47,"p":2,"d":"KO"},{"l":47,"p":3,"d":"DO"},{"l":47,"p":4,"d":"GO"},{"l":47,"p":5,"d":"BO"},{"l":47,"p":6,"d":"VO"},{"l":47,"p":7,"d":"EO"},{"l":47,"p":8,"d":"LO"},{"l":47,"p":9,"d":"PO"},{"l":47,"p":10,"d":"NO"},{"l":47,"p":11,"d":"AO"},{"l":47,"p":12,"d":"XO"},{"l":47,"p":13,"d":"CO"},{"l":47,"p":14,"d":"HO"},
{"l":48,"p":1,"d":"RO"},{"l":48,"p":2,"d":"KO"},{"l":48,"p":3,"d":"DO"},{"l":48,"p":4,"d":"GO"},{"l":48,"p":5,"d":"BO"},{"l":48,"p":6,"d":"VO"},{"l":48,"p":7,"d":"EO"},{"l":48,"p":8,"d":"LO"},{"l":48,"p":9,"d":"PO"},{"l":48,"p":10,"d":"NO"},{"l":48,"p":11,"d":"AO"},{"l":48,"p":12,"d":"XO"},{"l":48,"p":13,"d":"CO"},{"l":48,"p":14,"d":"HO"},
{"l":49,"p":1,"d":"RO"},{"l":49,"p":2,"d":"KO"},{"l":49,"p":3,"d":"DO"},{"l":49,"p":4,"d":"GO"},{"l":49,"p":5,"d":"BO"},{"l":49,"p":6,"d":"VO"},{"l":49,"p":7,"d":"LO"},{"l":49,"p":8,"d":"EO"},{"l":49,"p":9,"d":"PO"},{"l":49,"p":10,"d":"NO"},{"l":49,"p":11,"d":"AO"},{"l":49,"p":12,"d":"XO"},{"l":49,"p":13,"d":"CO"},{"l":49,"p":14,"d":"HO"},
{"l":50,"p":1,"d":"RO"},{"l":50,"p":2,"d":"KO"},{"l":50,"p":3,"d":"DO"},{"l":50,"p":4,"d":"GO"},{"l":50,"p":5,"d":"BO"},{"l":50,"p":6,"d":"VO"},{"l":50,"p":7,"d":"LO"},{"l":50,"p":8,"d":"EO"},{"l":50,"p":9,"d":"PO"},{"l":50,"p":10,"d":"NO"},{"l":50,"p":11,"d":"AO"},{"l":50,"p":12,"d":"XO"},{"l":50,"p":13,"d":"CO"},{"l":50,"p":14,"d":"HO"},
{"l":51,"p":1,"d":"RO"},{"l":51,"p":2,"d":"GO"},{"l":51,"p":3,"d":"KO"},{"l":51,"p":4,"d":"DO"},{"l":51,"p":5,"d":"BO"},{"l":51,"p":6,"d":"VO"},{"l":51,"p":7,"d":"LO"},{"l":51,"p":8,"d":"EO"},{"l":51,"p":9,"d":"PO"},
{"l":52,"p":1,"d":"RO"},{"l":52,"p":2,"d":"GO"},{"l":52,"p":3,"d":"BO"},{"l":52,"p":4,"d":"VO"},{"l":52,"p":5,"d":"KO"},{"l":52,"p":6,"d":"DO"},{"l":52,"p":7,"d":"LO"},{"l":52,"p":8,"d":"EO"}
]},
"data":{"name":"laps"},
"transform":[{"lookup":"d","from":{"data":{"name":"drv"},"key":"d","fields":["c","f"]}}],
"layer":[
{"layer":[
{"mark":{"type":"line","strokeWidth":3},
"encoding":{
"x":{"field":"l","type":"quantitative","scale":{"domain":[1,53],"nice":false,"zero":false},
"axis":{"orient":"bottom","values":[1,2,3,4,5,6,7,8,9,10,11,12,13,14,15,16,17,18,19,20,21,22,23,24,25,26,27,28,29,30,31,32,33,34,35,36,37,38,39,40,41,42,43,44,45,46,47,48,49,50,51,52],"grid":true,"gridColor":"#cccccc","gridWidth":1,"labels":false,"ticks":false,"domain":true,"domainColor":"#000000","domainWidth":1.5,"title":"Laps","titleX":712,"titleY":-7,"titleAlign":"left","titleBaseline":"alphabetic","titleFontSize":15,"titleFontWeight":"normal","titleColor":"#000000","titleFont":"DejaVu Sans"}},
"y":{"field":"p","type":"quantitative","scale":{"domain":[-0.492,36.706],"reverse":true,"nice":false,"zero":false},
"axis":{"orient":"left","values":[1,2,3,4,5,6,7,8,9,10,11,12,13,14,15,16,17,18,19,20,21,22,23,24,25,26,27,28,29,30,31,32,33,34,35],"grid":true,"gridColor":"#cccccc","gridWidth":1,"ticks":false,"domain":true,"domainColor":"#000000","domainWidth":1.5,"labelAlign":"left","labelPadding":19,"labelFontSize":9,"labelColor":"#000000","labelFont":"DejaVu Sans","labelFlush":false,"labelOverlap":false,"labelBound":false,"title":"Position","titleAngle":0,"titleX":-25,"titleY":-6,"titleAlign":"left","titleBaseline":"alphabetic","titleFontSize":15,"titleFontWeight":"normal","titleColor":"#000000","titleFont":"DejaVu Sans"}},
"detail":{"field":"d","type":"nominal"},
"color":{"field":"c","type":"nominal","scale":null}}},
{"mark":{"type":"point","shape":"circle","filled":true,"size":50,"strokeWidth":1.5,"opacity":1},
"encoding":{
"x":{"field":"l","type":"quantitative"},
"y":{"field":"p","type":"quantitative","axis":{"orient":"left","values":[1,2,3,4,5,6,7,8,9,10,11,12,13,14,15,16,17,18,19,20,21,22,23,24,25,26,27,28,29,30,31,32,33,34,35],"grid":true,"gridColor":"#cccccc","gridWidth":1,"ticks":false,"domain":true,"domainColor":"#000000","domainWidth":1.5,"labelAlign":"left","labelPadding":19,"labelFontSize":9,"labelColor":"#000000","labelFont":"DejaVu Sans","labelFlush":false,"labelOverlap":false,"labelBound":false,"title":"Position","titleAngle":0,"titleX":-25,"titleY":-6,"titleAlign":"left","titleBaseline":"alphabetic","titleFontSize":15,"titleFontWeight":"normal","titleColor":"#000000","titleFont":"DejaVu Sans"}},
"stroke":{"field":"c","type":"nominal","scale":null},
"fill":{"condition":{"test":"datum.f==1","value":"#ffff00"},"value":"#ffffff"}}}
]},
{"mark":{"type":"point","opacity":0,"size":1},
"encoding":{
"x":{"field":"l","type":"quantitative","scale":{"domain":[0.592,53.809],"nice":false,"zero":false},
"axis":{"orient":"bottom","values":[1,2,3,4,5,6,7,8,9,10,11,12,13,14,15,16,17,18,19,20,21,22,23,24,25,26,27,28,29,30,31,32,33,34,35,36,37,38,39,40,41,42,43,44,45,46,47,48,49,50,51,52],"grid":false,"ticks":false,"domain":false,"labelPadding":7,"labelFontSize":10.5,"labelFont":"DejaVu Sans","labelColor":"#000000","labelFlush":false,"labelOverlap":false,"labelBound":false,"title":null}},
"y":{"field":"p","type":"quantitative","scale":{"domain":[-0.492,36.706],"reverse":true,"nice":false,"zero":false},
"axis":{"orient":"right","values":[1,2,3,4,5,6,7,8,9,10,11,12,13,14,15,16,17,18,19,20,21,22,23,24,25,26,27,28,29,30,31,32,33,34,35],"grid":false,"ticks":false,"domain":false,"offset":-9,"labelPadding":0,"labelAlign":"left","labelFontSize":9,"labelFont":"DejaVu Sans","labelColor":"#000000","labelFlush":false,"labelOverlap":false,"labelBound":false,"title":null}}}}
],
"resolve":{"scale":{"x":"independent","y":"independent"},"axis":{"x":"independent","y":"independent"}}
}
